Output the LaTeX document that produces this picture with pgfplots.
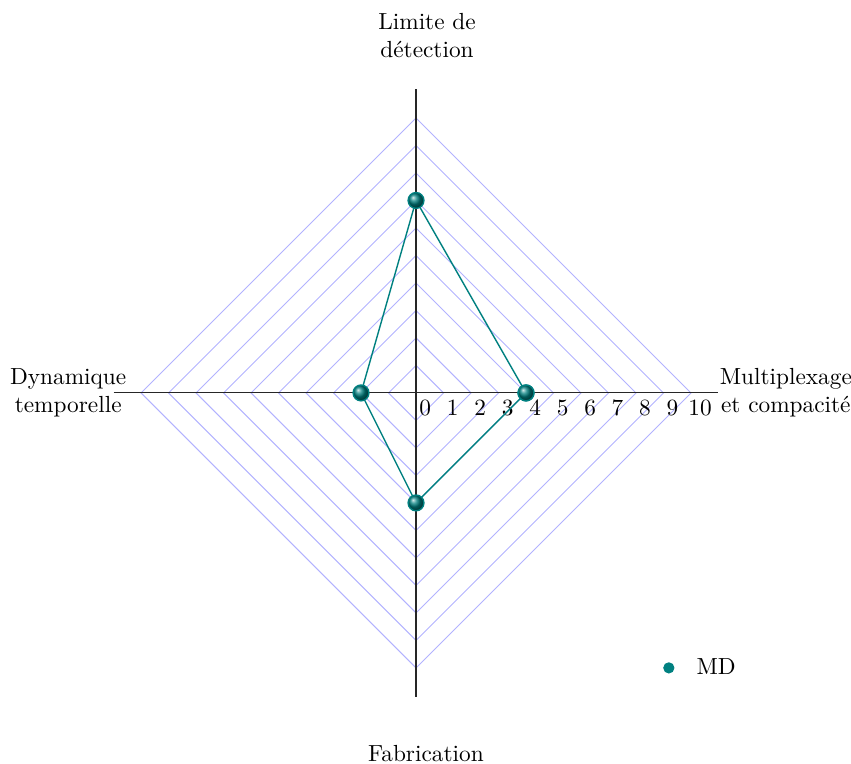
\documentclass[border=0pt]{standalone}
\usepackage{pgfplots}
\pgfplotsset{compat=1.18}
\begin{document}
\begin{tikzpicture}
\begin{axis}[
  x=11.8pt, y=11.8pt,
  xmin=-15.13, xmax=15.82, ymin=-13.49, ymax=14.29,
  hide axis, clip=false,
  legend style={draw=none, fill=none, at={(axis cs:8.72,-10.0)}, anchor=west, font=\normalsize},
  legend cell align=left,
  legend image code/.code={\fill[teal] (0cm,0cm) circle (2.2pt); \path (0.34cm,0cm);},
]
\coordinate (bbl) at (axis cs:-15.13,-13.49);
\coordinate (btr) at (axis cs:15.82,14.29);
\pgfplotsinvokeforeach{1,...,10}{
  \draw[blue!30, line width=0.4pt] (axis cs:#1,0) -- (axis cs:0,#1) -- (axis cs:-#1,0) -- (axis cs:0,-#1) -- cycle;
}
\draw[black!85, line width=0.45pt] (axis cs:-11,0) -- (axis cs:11,0);
\draw[black!85, line width=0.45pt] (axis cs:0,-11.05) -- (axis cs:0,11.05);
\pgfplotsinvokeforeach{0,...,10}{
  \node[anchor=north, inner sep=1.5pt] at (axis cs:#1+0.33,-0.12) {#1};
}
\addplot[teal, line width=0.6pt, mark=ball, mark size=3.4pt, mark options={ball color=teal}, forget plot]
  coordinates {(4,0) (0,7) (-2,0) (0,-4) (4,0)};
\addlegendimage{teal}
\addlegendentry{MD}
\node[align=center] at (axis cs:0.4,13.0) {Limite de\\d\'etection};
\node[align=center] at (axis cs:0.36,-13.1) {Fabrication};
\node[align=center] at (axis cs:-12.65,0) {Dynamique\\temporelle};
\node[align=center] at (axis cs:13.45,0) {Multiplexage\\et compacit\'e};
\end{axis}
\pgfresetboundingbox
\path[use as bounding box] (bbl) rectangle (btr);
\end{tikzpicture}
\end{document}
